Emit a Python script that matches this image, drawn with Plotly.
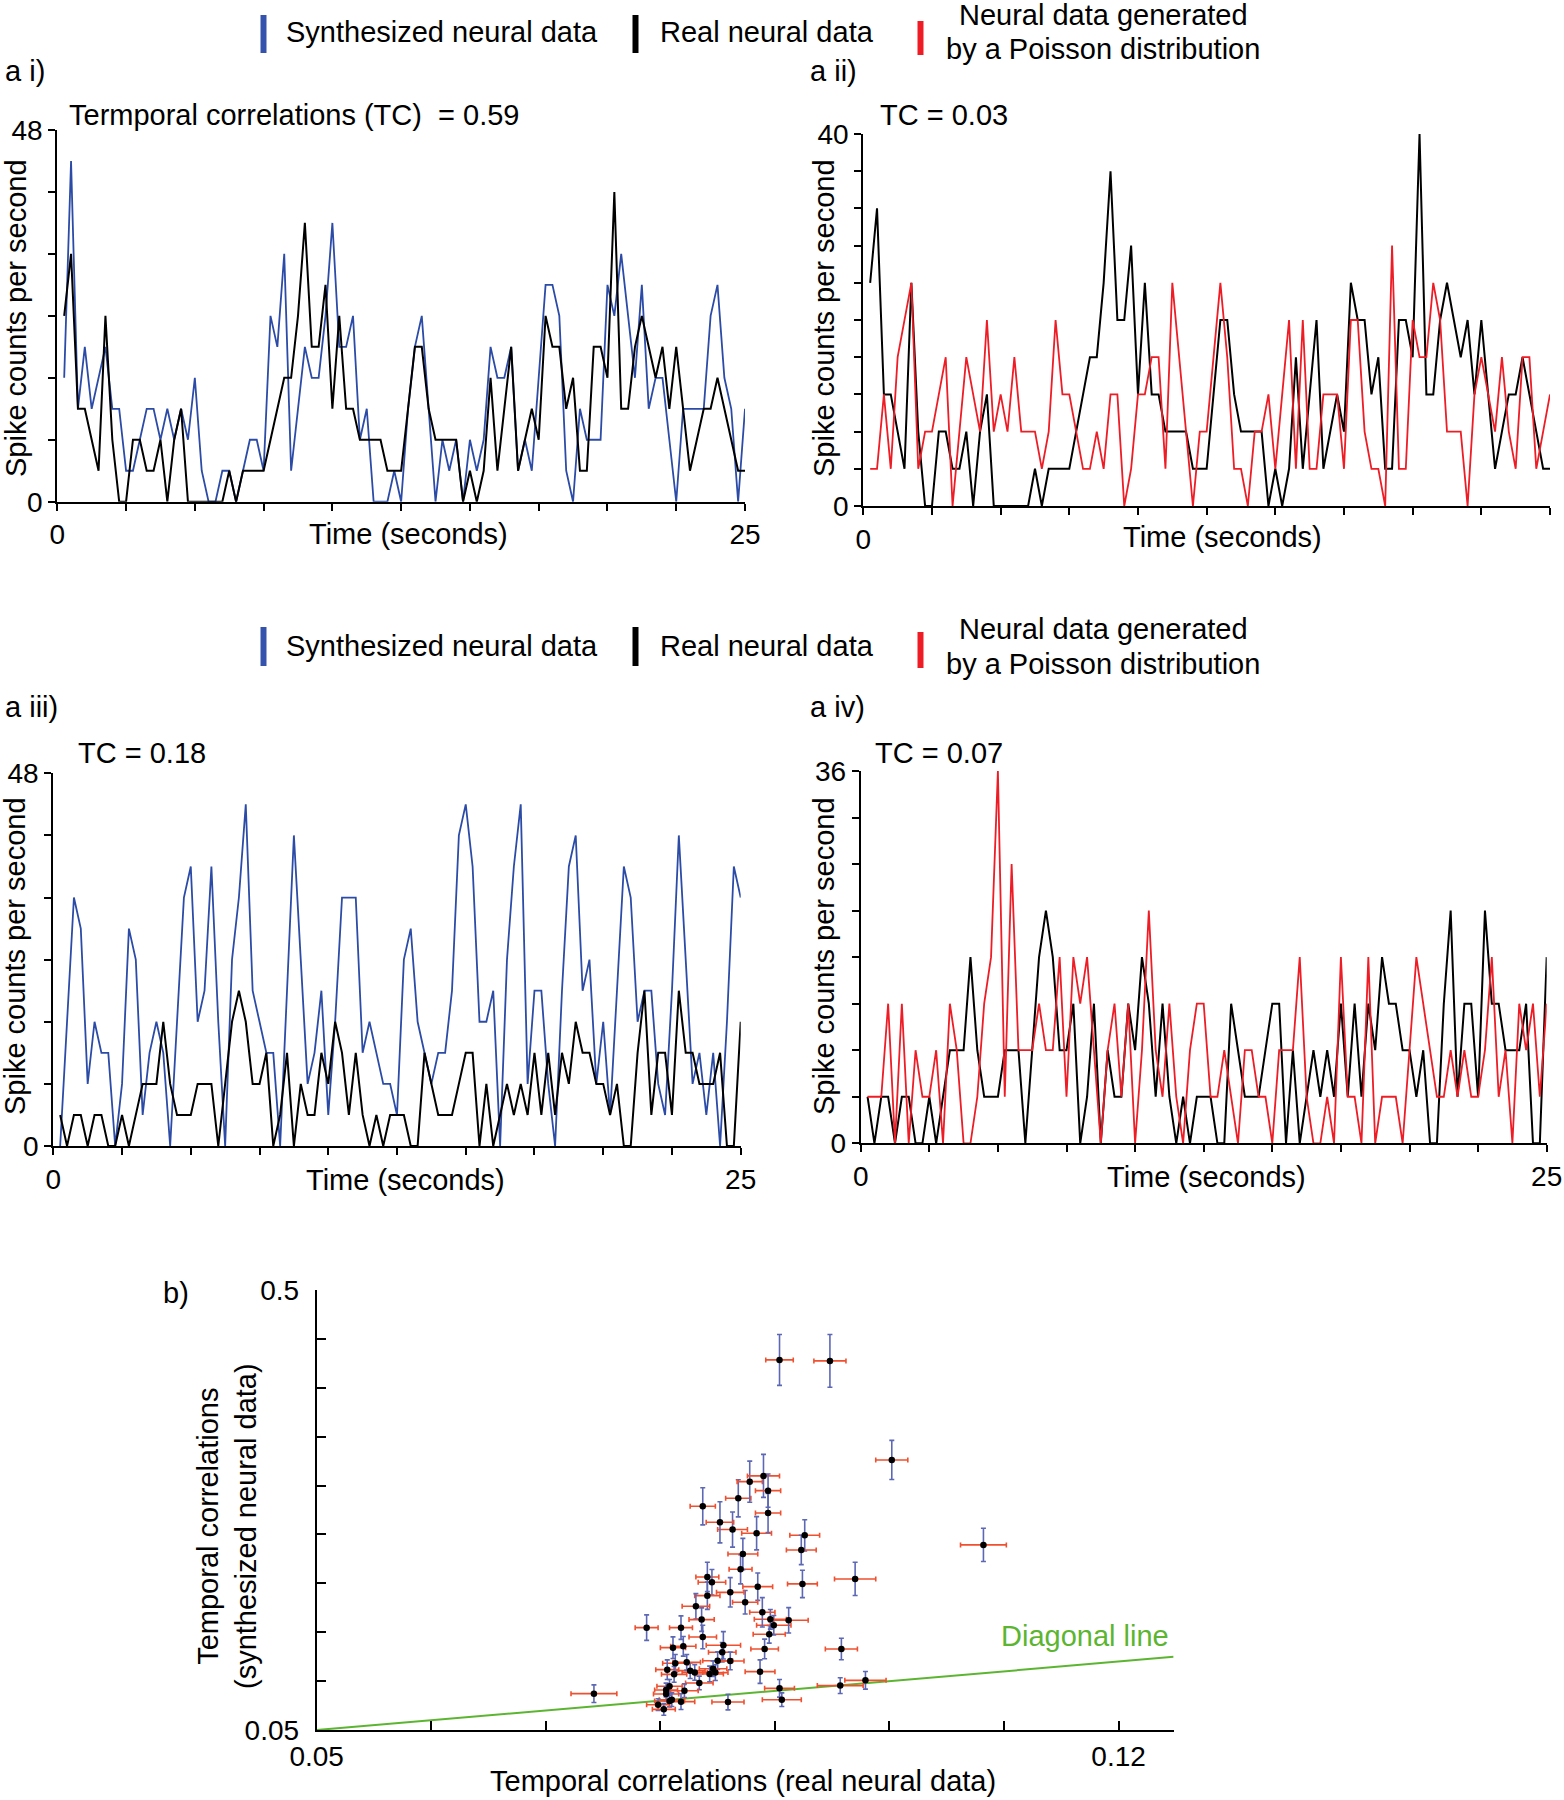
import plotly.graph_objects as go

# ---------------- data ----------------
bin_width_s = 0.25
time_s = [round(bin_width_s * k, 2) for k in range(1, 101)]

# a i) synthesized (blue) vs real (black)
ai_synth = [16, 44, 12, 20, 12, 16, 20, 12, 12, 4,
            4, 8, 12, 12, 8, 12, 8, 12, 8, 16,
            4, 0, 0, 4, 4, 0, 4, 8, 8, 4,
            24, 20, 32, 4, 12, 20, 16, 16, 24, 36,
            20, 20, 24, 8, 12, 0, 0, 0, 4, 0,
            12, 20, 24, 12, 0, 8, 4, 8, 0, 8,
            4, 8, 20, 16, 16, 20, 4, 8, 4, 16,
            28, 28, 24, 4, 0, 12, 8, 8, 8, 28,
            24, 32, 24, 16, 28, 12, 16, 16, 8, 0,
            12, 12, 12, 12, 24, 28, 16, 12, 0, 12]
ai_real = [24, 32, 12, 12, 8, 4, 24, 8, 0, 0,
           8, 8, 4, 4, 8, 0, 8, 12, 0, 0,
           0, 0, 0, 0, 4, 0, 4, 4, 4, 4,
           8, 12, 16, 16, 24, 36, 20, 20, 28, 12,
           24, 12, 12, 8, 8, 8, 8, 4, 4, 4,
           12, 20, 20, 12, 8, 8, 8, 8, 0, 4,
           0, 4, 16, 4, 12, 20, 4, 8, 12, 8,
           24, 20, 20, 12, 16, 4, 4, 20, 20, 16,
           40, 12, 12, 20, 24, 20, 16, 20, 12, 20,
           12, 4, 8, 12, 12, 16, 12, 8, 4, 4]

# a ii) real (black) vs Poisson (red)
aii_real = [24, 32, 12, 12, 8, 4, 24, 8, 0, 0,
            8, 8, 4, 4, 8, 0, 8, 12, 0, 0,
            0, 0, 0, 0, 4, 0, 4, 4, 4, 4,
            8, 12, 16, 16, 24, 36, 20, 20, 28, 12,
            24, 12, 12, 8, 8, 8, 8, 4, 4, 4,
            12, 20, 20, 12, 8, 8, 8, 8, 0, 4,
            0, 4, 16, 4, 12, 20, 4, 8, 12, 8,
            24, 20, 20, 12, 16, 4, 4, 20, 20, 16,
            40, 12, 12, 20, 24, 20, 16, 20, 12, 20,
            12, 4, 8, 12, 12, 16, 12, 8, 4, 4]
aii_poisson = [4, 4, 12, 4, 16, 20, 24, 4, 8, 8,
               12, 16, 0, 8, 16, 12, 8, 20, 8, 12,
               8, 16, 8, 8, 8, 4, 8, 20, 12, 12,
               8, 4, 4, 8, 4, 12, 12, 0, 4, 12,
               12, 16, 16, 4, 24, 16, 8, 0, 8, 8,
               16, 24, 16, 4, 4, 0, 8, 8, 12, 4,
               12, 20, 4, 20, 4, 4, 12, 12, 12, 4,
               20, 20, 8, 4, 4, 0, 28, 4, 4, 20,
               16, 16, 24, 20, 8, 8, 8, 0, 12, 16,
               12, 8, 16, 8, 4, 16, 16, 4, 8, 12]

# a iii) synthesized (blue) vs real (black)
aiii_synth = [0, 16, 32, 28, 8, 16, 12, 12, 0, 8,
              28, 24, 4, 12, 16, 12, 0, 16, 32, 36,
              16, 20, 36, 16, 0, 24, 32, 44, 20, 16,
              12, 12, 0, 20, 40, 24, 8, 12, 20, 4,
              16, 32, 32, 32, 12, 16, 12, 8, 8, 4,
              24, 28, 16, 12, 8, 12, 12, 20, 40, 44,
              36, 16, 16, 20, 0, 24, 36, 44, 8, 20,
              20, 8, 0, 20, 36, 40, 20, 24, 8, 16,
              4, 20, 36, 32, 16, 20, 20, 8, 4, 20,
              40, 24, 8, 12, 4, 12, 0, 16, 36, 32]
aiii_real = [4, 0, 4, 4, 0, 4, 4, 0, 0, 4,
             0, 4, 8, 8, 8, 16, 8, 4, 4, 4,
             8, 8, 8, 0, 8, 16, 20, 16, 8, 8,
             12, 0, 4, 12, 0, 8, 4, 4, 12, 8,
             16, 12, 4, 12, 4, 0, 4, 0, 4, 4,
             4, 0, 0, 12, 8, 4, 4, 4, 8, 12,
             12, 0, 8, 0, 4, 8, 4, 8, 4, 12,
             4, 12, 4, 12, 8, 16, 12, 12, 8, 8,
             4, 8, 0, 0, 12, 20, 4, 12, 12, 4,
             20, 12, 12, 8, 8, 8, 12, 0, 0, 16]

# a iv) real (black) vs Poisson (red)
aiv_real = [4.5, 0, 4.5, 4.5, 0, 4.5, 4.5, 0, 0, 4.5,
            0, 4.5, 9, 9, 9, 18, 9, 4.5, 4.5, 4.5,
            9, 9, 9, 0, 9, 18, 22.5, 18, 9, 9,
            13.5, 0, 4.5, 13.5, 0, 9, 4.5, 4.5, 13.5, 9,
            18, 13.5, 4.5, 13.5, 4.5, 0, 4.5, 0, 4.5, 4.5,
            4.5, 0, 0, 13.5, 9, 4.5, 4.5, 4.5, 9, 13.5,
            13.5, 0, 9, 0, 4.5, 9, 4.5, 9, 4.5, 13.5,
            4.5, 13.5, 4.5, 13.5, 9, 18, 13.5, 13.5, 9, 9,
            4.5, 9, 0, 0, 13.5, 22.5, 4.5, 13.5, 13.5, 4.5,
            22.5, 13.5, 13.5, 9, 9, 9, 13.5, 0, 0, 18]
aiv_poisson = [4.5, 4.5, 4.5, 13.5, 0, 13.5, 0, 9, 4.5, 4.5,
               9, 0, 13.5, 9, 0, 0, 4.5, 13.5, 18, 36,
               4.5, 27, 9, 9, 9, 13.5, 9, 9, 18, 4.5,
               18, 13.5, 18, 9, 0, 9, 13.5, 4.5, 13.5, 0,
               9, 22.5, 9, 4.5, 13.5, 4.5, 0, 9, 13.5, 13.5,
               4.5, 4.5, 9, 4.5, 0, 9, 9, 4.5, 4.5, 0,
               9, 9, 9, 18, 4.5, 0, 0, 4.5, 0, 18,
               4.5, 4.5, 0, 18, 0, 4.5, 4.5, 4.5, 0, 9,
               18, 13.5, 9, 4.5, 4.5, 9, 4.5, 9, 4.5, 4.5,
               9, 18, 4.5, 9, 0, 13.5, 9, 13.5, 4.5, 13.5]

# b) temporal correlations: real (x) vs synthesized (y), with error bars
tc_real = [0.0904, 0.0948, 0.1002, 0.1082, 0.0970, 0.0926, 0.0923, 0.0924, 0.0958, 0.0979,
           0.0957, 0.0904, 0.0906, 0.0859, 0.0887, 0.0891, 0.0895, 0.0899, 0.0896, 0.0912,
           0.0889, 0.0885, 0.0874, 0.0870, 0.0872, 0.0861, 0.0884, 0.0863, 0.0852, 0.0837,
           0.0868, 0.0878, 0.0890, 0.0894, 0.0894, 0.0841, 0.0845, 0.0841, 0.0831, 0.0836,
           0.0818, 0.0788, 0.0837, 0.0820, 0.0811, 0.0855, 0.0854, 0.0861, 0.0850, 0.0846,
           0.0848, 0.0843, 0.0834, 0.0830, 0.0826, 0.0823, 0.0813, 0.0806, 0.0812, 0.0821,
           0.0808, 0.0805, 0.0805, 0.0810, 0.0808, 0.0818, 0.0798, 0.0803, 0.0742]
tc_synth = [0.4285, 0.4275, 0.3262, 0.2393, 0.2045, 0.2491, 0.2341, 0.1994, 0.1329, 0.1008,
            0.0954, 0.0926, 0.0810, 0.0786, 0.1097, 0.1329, 0.1479, 0.1571, 0.1632, 0.1622,
            0.1704, 0.1966, 0.1806, 0.2144, 0.2300, 0.1908, 0.2512, 0.2550, 0.2624, 0.2788,
            0.2870, 0.3040, 0.3099, 0.2948, 0.2720, 0.2065, 0.2011, 0.1874, 0.1765, 0.1629,
            0.1547, 0.1547, 0.1451, 0.1356, 0.1342, 0.1366, 0.1295, 0.1206, 0.1209, 0.1127,
            0.1087, 0.1073, 0.0981, 0.1089, 0.1107, 0.1192, 0.1182, 0.1117, 0.1069, 0.0902,
            0.0947, 0.0909, 0.0868, 0.0810, 0.0797, 0.0790, 0.0759, 0.0711, 0.0872]
tc_real_err = [0.0012, 0.0014, 0.0014, 0.0020, 0.0018, 0.0013, 0.0013, 0.0013, 0.0014, 0.0018,
               0.0020, 0.0013, 0.0017, 0.0014, 0.0013, 0.0012, 0.0014, 0.0015, 0.0014, 0.0017,
               0.0011, 0.0013, 0.0011, 0.0010, 0.0013, 0.0012, 0.0013, 0.0013, 0.0012, 0.0011,
               0.0011, 0.0011, 0.0014, 0.0011, 0.0011, 0.0010, 0.0012, 0.0011, 0.0012, 0.0011,
               0.0010, 0.0010, 0.0012, 0.0011, 0.0011, 0.0015, 0.0012, 0.0012, 0.0013, 0.0012,
               0.0011, 0.0012, 0.0012, 0.0011, 0.0013, 0.0012, 0.0011, 0.0010, 0.0011, 0.0012,
               0.0011, 0.0010, 0.0011, 0.0011, 0.0013, 0.0012, 0.0010, 0.0010, 0.0020]
tc_synth_err = [0.026, 0.027, 0.020, 0.017, 0.017, 0.016, 0.015, 0.014, 0.011, 0.009,
                0.008, 0.009, 0.007, 0.008, 0.012, 0.010, 0.009, 0.010, 0.010, 0.013,
                0.015, 0.014, 0.012, 0.015, 0.016, 0.015, 0.017, 0.018, 0.021, 0.019,
                0.019, 0.021, 0.022, 0.017, 0.020, 0.015, 0.013, 0.014, 0.013, 0.012,
                0.012, 0.013, 0.012, 0.010, 0.011, 0.014, 0.010, 0.009, 0.009, 0.008,
                0.008, 0.008, 0.007, 0.008, 0.008, 0.008, 0.009, 0.010, 0.008, 0.007,
                0.007, 0.007, 0.007, 0.007, 0.006, 0.008, 0.006, 0.006, 0.009]

# ---------------- style / layout ----------------
W, H = 1564, 1800
FONT = "Liberation Sans, Arial, sans-serif"
BLUE = "#2b4ba6"
RED = "#ee1c25"
BLACK = "#000000"
GREEN = "#5cb531"
XERR_C = "#f0502f"
YERR_C = "#5d68b5"
TXT = 29
TICK = 28


def fx(px):
    return px / W


def fy(py):
    return 1 - py / H


fig = go.Figure()

# (axis id, box [x0, x1, ytop, ybottom], ymax, ystep, [(series, colour, width)])
panels = [
    ("", (57.3, 745.0, 130.0, 501.7), 48, 8, [(ai_synth, BLUE, 1.8), (ai_real, BLACK, 2.0)]),
    ("2", (863.3, 1550.0, 134.0, 506.0), 40, 4, [(aii_real, BLACK, 2.0), (aii_poisson, RED, 1.8)]),
    ("3", (53.3, 740.7, 773.3, 1146.0), 48, 8, [(aiii_synth, BLUE, 1.8), (aiii_real, BLACK, 2.0)]),
    ("4", (860.7, 1546.7, 771.0, 1143.3), 36, 4.5, [(aiv_real, BLACK, 2.0), (aiv_poisson, RED, 1.8)]),
]

xticks = [2.5 * k for k in range(11)]
for aid, (x0, x1, yt, yb), ymax, ystep, series in panels:
    for vals, col, lw in series:
        fig.add_trace(go.Scatter(x=time_s, y=vals, mode="lines",
                                 line=dict(color=col, width=lw),
                                 xaxis="x" + aid, yaxis="y" + aid,
                                 showlegend=False, hoverinfo="skip", cliponaxis=False))
    nyt = int(round(ymax / ystep))
    yticks = [ystep * k for k in range(nyt + 1)]
    ytext = [""] * len(yticks)
    ytext[0] = "0"
    ytext[-1] = str(int(ymax))
    xtext = [""] * len(xticks)
    xtext[0] = "0"
    xtext[-1] = "25"
    fig.layout["xaxis" + aid] = dict(
        domain=[fx(x0), fx(x1)], range=[0, 25], anchor="y" + aid,
        showline=True, linecolor="black", linewidth=2, mirror=False,
        ticks="outside", ticklen=7, tickwidth=2, tickcolor="black",
        tickvals=xticks, ticktext=xtext, tickfont=dict(size=TICK, family=FONT, color="black"),
        showgrid=False, zeroline=False, fixedrange=True, automargin=False)
    fig.layout["yaxis" + aid] = dict(
        domain=[fy(yb), fy(yt)], range=[0, ymax], anchor="x" + aid,
        showline=True, linecolor="black", linewidth=2,
        ticks="outside", ticklen=7, tickwidth=2, tickcolor="black",
        tickvals=yticks, ticktext=ytext, tickfont=dict(size=TICK, family=FONT, color="black"),
        showgrid=False, zeroline=False, fixedrange=True, automargin=False)

# scatter panel b
sx_range = [0.05, 0.1248]
sy_range = [0.05, 0.5]
fig.add_trace(go.Scatter(x=sx_range, y=sx_range, mode="lines",
                         line=dict(color=GREEN, width=2), xaxis="x5", yaxis="y5",
                         showlegend=False, hoverinfo="skip", cliponaxis=False))
fig.add_trace(go.Scatter(
    x=tc_real, y=tc_synth, mode="markers", xaxis="x5", yaxis="y5",
    marker=dict(color="black", size=6.5),
    error_x=dict(type="data", array=tc_real_err, color=XERR_C, thickness=1.6, width=2.5),
    error_y=dict(type="data", array=tc_synth_err, color=YERR_C, thickness=1.6, width=2.5),
    showlegend=False, hoverinfo="skip"))

sxt = [0.05 + 0.01 * k for k in range(8)]
sxtext = [""] * 8
sxtext[0] = "0.05"
sxtext[-1] = "0.12"
syt = [0.05 + 0.05 * k for k in range(10)]
sytext = [""] * 10
sytext[0] = "0.05"
sytext[-1] = "0.5"
fig.layout["xaxis5"] = dict(
    domain=[fx(316.7), fx(1173.6)], range=sx_range, anchor="y5",
    showline=True, linecolor="black", linewidth=2,
    ticks="inside", ticklen=9, tickwidth=2, tickcolor="black",
    tickvals=sxt, ticktext=sxtext, tickfont=dict(size=TICK, family=FONT, color="black"),
    showgrid=False, zeroline=False, fixedrange=True, automargin=False)
fig.layout["yaxis5"] = dict(
    domain=[fy(1730), fy(1290)], range=sy_range, anchor="x5",
    showline=True, linecolor="black", linewidth=2,
    ticks="inside", ticklen=9, tickwidth=2, tickcolor="black", ticklabelstandoff=10,
    tickvals=syt, ticktext=sytext, tickfont=dict(size=TICK, family=FONT, color="black"),
    showgrid=False, zeroline=False, fixedrange=True, automargin=False)

# ---------------- annotations ----------------
ann = []


def text(x, y, s, xanchor="left", size=TXT, color="black", angle=0):
    ann.append(dict(x=fx(x), y=fy(y), xref="paper", yref="paper", text=s,
                    showarrow=False, xanchor=xanchor, yanchor="middle",
                    textangle=angle, font=dict(size=size, family=FONT, color=color)))


# legends (two rows)
for row_y, bar_top, bar_bot, red_l1, red_l2, red_top, red_bot in [
        (32, 15, 53, 15, 49, 21, 55), (646, 627, 666, 629, 664, 632, 668)]:
    fig.add_shape(type="rect", xref="paper", yref="paper",
                  x0=fx(260.5), x1=fx(266.5), y0=fy(bar_bot), y1=fy(bar_top),
                  fillcolor="#3553ad", line=dict(width=0))
    fig.add_shape(type="rect", xref="paper", yref="paper",
                  x0=fx(632.5), x1=fx(638.5), y0=fy(bar_bot), y1=fy(bar_top),
                  fillcolor="black", line=dict(width=0))
    fig.add_shape(type="rect", xref="paper", yref="paper",
                  x0=fx(917.5), x1=fx(923.5), y0=fy(red_bot), y1=fy(red_top),
                  fillcolor=RED, line=dict(width=0))
    text(284, row_y, "Synthesized neural data")
    text(658, row_y, "Real neural data")
    text(1103, red_l1, "Neural data generated", xanchor="center")
    text(1103, red_l2, "by a Poisson distribution", xanchor="center")

# panel letters
text(3, 71, "a i)")
text(808, 71, "a ii)")
text(3, 707, "a iii)")
text(808, 707, "a iv)")
text(161, 1293, "b)")

# TC labels
text(67, 115, "Termporal correlations (TC)\u00a0\u00a0= 0.59")
text(878, 115, "TC = 0.03")
text(76, 753, "TC = 0.18")
text(873, 753, "TC = 0.07")

# axis titles
for cx, cy in [(408, 534), (1222, 537), (405, 1180), (1206, 1177)]:
    text(cx, cy, "Time (seconds)", xanchor="center")
for cx, cy in [(16, 318), (824, 318), (15, 956), (824, 956)]:
    text(cx, cy, "Spike counts per second", xanchor="center", angle=-90)
text(743, 1781, "Temporal correlations (real neural data)", xanchor="center")
text(227, 1526, "Temporal correlations<br>(synthesized neural data)", xanchor="center", angle=-90)
text(1085, 1636, "Diagonal line", xanchor="center", color=GREEN)

fig.update_layout(
    width=W, height=H, margin=dict(l=0, r=0, t=0, b=0, pad=0, autoexpand=False),
    paper_bgcolor="white", plot_bgcolor="white",
    showlegend=False, annotations=ann,
    font=dict(family=FONT, color="black"))

fig.write_html("out.html",
               config={"displayModeBar": False, "staticPlot": True},
               post_script="document.body.style.margin='0';document.body.style.overflow='hidden';")
